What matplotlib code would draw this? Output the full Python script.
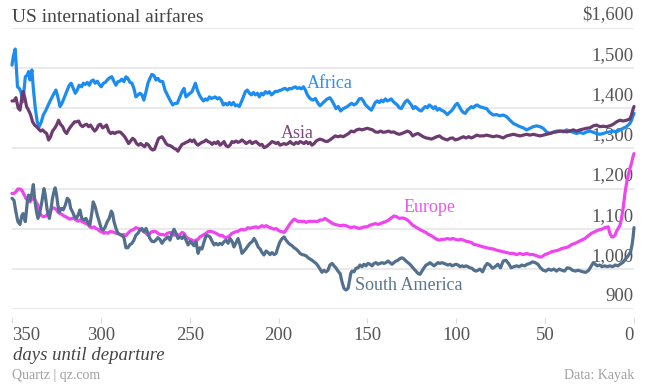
import matplotlib
matplotlib.use("Agg")
import matplotlib.pyplot as plt
import matplotlib.transforms as mtransforms

# (days until departure, average fare in $)
africa = [
    (350.0, 1507), (349.3, 1528), (348.2, 1547), (347.4, 1491), (346.9, 1453), (345.9, 1449),
    (345.0, 1441), (344.0, 1416), (343.3, 1441), (342.5, 1478), (341.4, 1482), (340.7, 1491),
    (339.9, 1470), (338.8, 1495), (338.0, 1449), (336.9, 1400), (335.8, 1366), (334.7, 1354),
    (333.5, 1366), (332.4, 1383), (330.9, 1395), (329.6, 1408), (328.3, 1420), (326.8, 1433),
    (325.3, 1445), (324.2, 1428), (323.0, 1404), (321.9, 1412), (320.8, 1424), (319.3, 1441),
    (317.8, 1457), (316.7, 1462), (315.5, 1449), (314.4, 1437), (313.3, 1445), (312.2, 1457),
    (310.8, 1453), (309.9, 1462), (308.8, 1459), (307.6, 1464), (306.5, 1457), (305.4, 1467),
    (304.3, 1470), (303.2, 1462), (302.0, 1467), (300.9, 1459), (299.8, 1453), (298.6, 1462),
    (297.5, 1464), (296.4, 1470), (294.9, 1476), (293.8, 1478), (292.6, 1466), (291.5, 1457),
    (290.4, 1466), (289.3, 1467), (288.2, 1472), (287.0, 1466), (285.9, 1478), (284.8, 1474),
    (283.6, 1464), (282.5, 1462), (281.4, 1449), (280.3, 1428), (279.1, 1433), (278.0, 1437),
    (276.9, 1433), (275.8, 1420), (274.6, 1441), (273.5, 1462), (272.4, 1474), (271.3, 1484),
    (270.1, 1481), (269.0, 1470), (267.9, 1474), (266.8, 1467),
    (265.2, 1466), (263.9, 1445), (262.6, 1433), (261.1, 1420), (259.6, 1408), (258.3, 1412),
    (257.0, 1412), (255.5, 1428), (254.3, 1441), (253.2, 1449), (252.1, 1428), (250.9, 1433),
    (249.8, 1437), (248.7, 1441), (247.6, 1453), (246.8, 1462), (245.7, 1445), (244.6, 1433),
    (243.4, 1424), (242.3, 1418), (241.2, 1423), (240.1, 1420), (238.9, 1428), (237.8, 1424),
    (236.7, 1426), (235.6, 1428), (234.4, 1423), (233.3, 1426), (232.2, 1420), (231.1, 1408),
    (229.9, 1412), (228.8, 1408), (227.7, 1414), (226.6, 1408), (225.4, 1414), (224.3, 1406),
    (223.2, 1408), (222.1, 1404), (220.9, 1416), (219.8, 1428), (218.7, 1441), (217.6, 1445),
    (216.4, 1437), (215.3, 1433), (214.2, 1439), (213.1, 1433), (211.9, 1437), (210.8, 1428),
    (209.7, 1437), (208.6, 1433), (207.4, 1441), (206.3, 1437), (205.2, 1441), (204.0, 1433),
    (202.9, 1437), (201.8, 1442), (200.7, 1441), (199.5, 1444), (198.4, 1445), (197.3, 1448),
    (196.2, 1449), (195.0, 1445), (193.9, 1449), (192.8, 1448), (191.7, 1451), (190.5, 1453),
    (189.4, 1449), (188.3, 1451), (187.2, 1448), (186.0, 1453), (184.9, 1445), (183.8, 1433),
    (182.3, 1424), (180.8, 1420), (179.3, 1424), (177.8, 1412), (176.7, 1406),
    (173.9, 1418), (172.6, 1423), (171.1, 1426), (169.9, 1418), (168.8, 1409), (167.7, 1399),
    (166.4, 1404), (165.1, 1393), (163.9, 1398), (162.6, 1401), (161.3, 1404), (160.2, 1408),
    (158.9, 1412), (157.6, 1408), (156.1, 1412), (154.6, 1423), (153.4, 1424), (152.3, 1418),
    (151.2, 1409), (150.1, 1404), (148.9, 1399), (147.8, 1395), (146.7, 1404), (145.6, 1414),
    (144.4, 1418), (143.3, 1414), (142.2, 1420), (141.1, 1416), (139.9, 1423), (138.8, 1418),
    (137.7, 1420), (136.6, 1423), (135.4, 1416), (134.3, 1412), (133.2, 1408), (132.1, 1401),
    (130.9, 1399), (129.8, 1408), (128.7, 1416), (127.5, 1420), (126.4, 1414), (125.3, 1408),
    (124.2, 1399), (123.1, 1404), (121.9, 1399), (120.8, 1395), (119.7, 1393), (118.6, 1399),
    (117.4, 1404), (116.3, 1401), (115.2, 1408), (114.0, 1404), (112.9, 1399), (111.8, 1404),
    (110.7, 1395), (109.5, 1399), (108.4, 1395), (107.3, 1393), (106.2, 1389), (105.0, 1384),
    (103.9, 1389), (102.8, 1393), (101.7, 1399), (100.5, 1408), (99.4, 1412), (98.3, 1404),
    (97.2, 1395), (96.0, 1389), (94.9, 1387), (93.8, 1395), (92.7, 1399), (91.5, 1404),
    (90.4, 1401), (89.3, 1406), (88.2, 1408), (87.0, 1404),
    (84.8, 1401), (83.0, 1399), (81.1, 1389), (79.2, 1383), (77.3, 1384), (75.5, 1381),
    (73.6, 1383), (71.7, 1379), (69.8, 1370), (67.9, 1362), (66.1, 1358), (64.2, 1354),
    (62.3, 1351), (60.4, 1346), (58.6, 1350), (56.7, 1354), (54.8, 1356), (52.9, 1354),
    (51.1, 1350), (49.2, 1341), (47.3, 1337), (45.4, 1340), (43.6, 1343), (41.7, 1343),
    (39.8, 1341), (37.9, 1346), (36.1, 1343), (34.2, 1340), (32.3, 1337), (30.4, 1340),
    (28.6, 1337), (26.7, 1341), (24.8, 1343), (22.9, 1340), (21.1, 1337), (19.2, 1335),
    (17.3, 1337), (15.4, 1340), (13.6, 1341), (11.7, 1343), (9.8, 1341), (7.9, 1346),
    (6.0, 1350), (4.2, 1354), (2.3, 1362), (1.4, 1370), (0.7, 1379), (0.0, 1387),
]

asia = [
    (350.0, 1418), (348.9, 1418), (347.8, 1426), (346.5, 1400), (345.5, 1395), (344.4, 1428),
    (343.7, 1441), (342.7, 1424), (341.8, 1404), (340.7, 1395), (339.5, 1383), (338.4, 1366),
    (337.3, 1358), (336.2, 1354), (335.0, 1348), (333.9, 1343), (332.8, 1346), (331.7, 1341),
    (330.5, 1337), (329.4, 1321), (328.3, 1329), (327.2, 1343), (326.0, 1350), (324.9, 1358),
    (323.8, 1370), (322.7, 1360), (321.5, 1354), (320.4, 1343), (319.3, 1337), (318.2, 1346),
    (317.0, 1354), (315.9, 1360), (314.8, 1366), (313.7, 1366), (312.5, 1368), (311.4, 1358),
    (310.3, 1354), (309.2, 1358), (308.0, 1360), (306.9, 1354), (305.8, 1358), (304.7, 1350),
    (303.5, 1343), (302.4, 1348), (301.3, 1358), (300.2, 1360), (299.0, 1351), (297.9, 1354),
    (296.8, 1358), (295.6, 1343), (294.5, 1337), (293.4, 1340), (292.3, 1337), (291.1, 1340),
    (290.0, 1341), (288.9, 1340), (287.8, 1335), (286.6, 1329), (285.5, 1321), (284.4, 1312),
    (283.3, 1318), (282.1, 1325), (281.0, 1321), (279.9, 1312), (278.8, 1308), (277.6, 1312),
    (276.5, 1308), (275.4, 1304), (274.3, 1312), (273.1, 1308), (272.0, 1300), (270.9, 1296),
    (269.8, 1298), (268.6, 1312), (267.5, 1325),
    (265.6, 1329), (264.4, 1321), (263.3, 1312), (262.2, 1308), (261.1, 1307), (259.9, 1304),
    (258.8, 1300), (257.7, 1298), (256.6, 1293), (255.5, 1302), (254.3, 1310), (253.2, 1312),
    (252.1, 1315), (250.9, 1317), (249.8, 1321), (248.7, 1317), (247.6, 1321), (246.4, 1312),
    (245.3, 1308), (244.2, 1312), (243.1, 1315), (241.9, 1317), (240.8, 1321), (239.7, 1317),
    (238.6, 1315), (237.4, 1310), (236.3, 1315), (235.2, 1312), (234.1, 1317), (232.9, 1308),
    (231.8, 1312), (230.7, 1317), (229.6, 1307), (228.4, 1304), (227.3, 1308), (226.2, 1317),
    (225.1, 1315), (223.9, 1318), (222.8, 1315), (221.7, 1317), (220.6, 1321), (219.4, 1317),
    (218.3, 1312), (217.2, 1315), (216.1, 1318), (214.9, 1312), (213.8, 1315), (212.7, 1317),
    (211.5, 1312), (210.4, 1308), (209.3, 1310), (208.2, 1302), (207.0, 1304), (205.9, 1308),
    (204.8, 1312), (203.7, 1317), (202.5, 1315), (201.4, 1312), (200.3, 1315), (199.2, 1308),
    (198.0, 1310), (196.9, 1312), (195.8, 1310), (194.7, 1312), (193.5, 1317), (192.4, 1312),
    (191.3, 1310), (190.2, 1315), (189.0, 1312), (187.9, 1317), (186.8, 1315), (185.7, 1312),
    (184.5, 1317), (183.4, 1312), (182.3, 1315), (181.2, 1308), (180.0, 1312), (178.9, 1318),
    (177.8, 1321), (176.7, 1323),
    (175.2, 1321), (173.9, 1318), (172.6, 1317), (171.1, 1321), (169.6, 1326), (168.1, 1331),
    (166.6, 1329), (165.1, 1331), (163.6, 1329), (162.1, 1333), (160.6, 1337), (159.1, 1343),
    (157.6, 1341), (156.1, 1346), (154.6, 1348), (153.1, 1346), (151.6, 1348), (150.1, 1350),
    (148.6, 1348), (147.1, 1346), (145.6, 1341), (144.1, 1340), (142.6, 1343), (141.1, 1340),
    (139.6, 1341), (138.1, 1343), (136.6, 1340), (135.1, 1341), (133.6, 1337), (132.1, 1335),
    (130.6, 1337), (129.1, 1340), (127.5, 1343), (126.0, 1340), (124.5, 1331), (123.0, 1335),
    (121.5, 1337), (120.0, 1333), (118.6, 1329), (117.1, 1326), (115.6, 1325), (114.0, 1323),
    (112.5, 1326), (111.0, 1329), (109.5, 1331), (108.0, 1326), (106.5, 1323), (105.0, 1321),
    (103.5, 1325), (102.0, 1326), (100.5, 1321), (99.0, 1323), (97.5, 1326), (96.0, 1329),
    (94.5, 1326), (93.0, 1329), (91.5, 1326), (90.0, 1329), (88.5, 1333), (87.0, 1331),
    (84.8, 1331), (83.0, 1333), (81.1, 1331), (79.2, 1329), (77.3, 1331), (75.5, 1329),
    (73.6, 1326), (71.7, 1331), (69.8, 1333), (67.9, 1335), (66.1, 1333), (64.2, 1331),
    (62.3, 1333), (60.4, 1335), (58.6, 1333), (56.7, 1335), (54.8, 1333), (52.9, 1331),
    (51.1, 1333), (49.2, 1335), (47.3, 1337), (45.4, 1340), (43.6, 1341), (41.7, 1343),
    (39.8, 1343), (37.9, 1341), (36.1, 1343), (34.2, 1346), (32.3, 1343), (30.4, 1346),
    (28.6, 1348), (26.7, 1350), (24.8, 1351), (22.9, 1356), (21.1, 1358), (19.2, 1354),
    (17.3, 1355), (15.4, 1354), (13.6, 1356), (11.7, 1360), (9.8, 1366), (7.9, 1370),
    (6.0, 1368), (4.2, 1370), (2.3, 1373), (1.4, 1383), (0.7, 1395), (0.0, 1404),
]

europe = [
    (350.0, 1188), (348.9, 1188), (347.8, 1192), (346.7, 1199), (345.5, 1199), (344.4, 1196),
    (343.3, 1186), (342.2, 1176), (341.0, 1169), (339.9, 1167), (338.8, 1174), (337.7, 1176),
    (336.5, 1167), (335.4, 1159), (334.3, 1138), (333.2, 1132), (332.0, 1130), (330.9, 1132),
    (329.8, 1138), (328.7, 1142), (327.5, 1151), (326.4, 1152), (325.3, 1149), (324.2, 1142),
    (323.0, 1138), (321.9, 1136), (320.8, 1132), (319.7, 1130), (318.5, 1127), (317.4, 1124),
    (316.3, 1126), (315.2, 1126), (314.0, 1122), (312.9, 1119), (311.8, 1122), (310.7, 1118),
    (309.5, 1116), (308.4, 1113), (307.3, 1111), (306.2, 1105), (305.0, 1103), (303.9, 1105),
    (302.8, 1101), (301.7, 1099), (300.5, 1094), (299.4, 1093), (298.3, 1089), (297.2, 1091),
    (296.0, 1089), (294.9, 1093), (293.8, 1093), (292.6, 1091), (291.5, 1089), (290.4, 1089),
    (289.3, 1086), (288.2, 1084), (287.0, 1086), (285.9, 1083), (284.8, 1089), (283.6, 1094),
    (282.5, 1097), (281.4, 1099), (280.3, 1103), (279.1, 1101), (278.0, 1099), (276.9, 1097),
    (275.8, 1093), (274.6, 1089), (273.5, 1084), (272.4, 1089), (271.3, 1093), (270.1, 1094),
    (269.0, 1093), (267.9, 1089), (266.8, 1086),
    (265.2, 1086), (263.9, 1084), (262.6, 1089), (261.1, 1091), (259.9, 1089), (258.8, 1084),
    (257.7, 1086), (256.6, 1084), (255.5, 1086), (254.3, 1091), (253.2, 1089), (252.1, 1080),
    (250.9, 1076), (249.8, 1074), (248.7, 1072), (247.6, 1069), (246.4, 1072), (245.3, 1074),
    (244.2, 1080), (243.1, 1083), (241.9, 1086), (240.8, 1089), (239.7, 1093), (238.6, 1094),
    (237.4, 1093), (236.3, 1091), (235.2, 1089), (234.1, 1086), (232.9, 1083), (231.8, 1084),
    (230.7, 1080), (229.6, 1078), (228.4, 1080), (227.3, 1084), (226.2, 1089), (225.1, 1091),
    (223.9, 1093), (222.8, 1094), (221.7, 1097), (220.6, 1099), (219.4, 1097), (218.3, 1099),
    (217.2, 1103), (216.1, 1101), (214.9, 1103), (213.8, 1104), (212.7, 1105), (211.5, 1103),
    (210.4, 1105), (209.3, 1108), (208.2, 1105), (207.0, 1108), (205.9, 1105), (204.8, 1103),
    (203.7, 1101), (202.5, 1099), (201.4, 1101), (200.3, 1097), (199.2, 1094), (198.0, 1093),
    (196.9, 1091), (195.8, 1097), (194.7, 1105), (193.5, 1113), (192.4, 1119), (191.3, 1124),
    (190.2, 1122), (189.0, 1118), (187.9, 1119), (186.8, 1118), (185.7, 1119), (184.5, 1116),
    (183.4, 1118), (182.3, 1119), (181.2, 1118), (180.0, 1119), (178.9, 1118), (177.8, 1119),
    (176.7, 1122),
    (175.2, 1122), (173.9, 1126), (172.6, 1122), (171.1, 1118), (169.6, 1113), (168.1, 1111),
    (166.6, 1109), (165.1, 1108), (163.6, 1109), (162.1, 1108), (160.6, 1105), (159.1, 1103),
    (157.6, 1105), (156.1, 1103), (154.6, 1101), (153.1, 1103), (151.6, 1105), (150.1, 1105),
    (148.6, 1109), (147.1, 1111), (145.6, 1113), (144.1, 1111), (142.6, 1113), (141.1, 1116),
    (139.6, 1118), (138.1, 1122), (136.6, 1127), (135.1, 1132), (133.6, 1130), (132.1, 1126),
    (130.6, 1127), (129.1, 1126), (127.5, 1122), (126.0, 1116), (124.5, 1109), (123.0, 1105),
    (121.5, 1101), (120.0, 1097), (118.6, 1094), (117.1, 1091), (115.6, 1086), (114.0, 1083),
    (112.5, 1078), (111.0, 1074), (109.5, 1072), (108.0, 1074), (106.5, 1074), (105.0, 1076),
    (103.5, 1074), (102.0, 1076), (100.5, 1074), (99.0, 1072), (97.5, 1074), (96.0, 1072),
    (94.5, 1069), (93.0, 1068), (91.5, 1066), (90.0, 1061), (88.5, 1060), (87.0, 1058),
    (84.8, 1055), (83.0, 1053), (81.1, 1051), (79.2, 1050), (77.3, 1047), (75.5, 1045),
    (73.6, 1043), (71.7, 1041), (69.8, 1039), (67.9, 1039), (66.1, 1036), (64.2, 1039),
    (62.3, 1036), (60.4, 1039), (58.6, 1036), (56.7, 1036), (54.8, 1033), (52.9, 1030),
    (52.0, 1030), (50.1, 1036), (48.2, 1039), (46.4, 1043), (44.5, 1045), (42.6, 1047),
    (40.7, 1051), (38.9, 1053), (37.0, 1055), (35.1, 1061), (33.2, 1064), (31.4, 1068),
    (29.5, 1072), (27.6, 1076), (25.7, 1083), (23.9, 1089), (22.0, 1093), (20.1, 1097),
    (18.2, 1099), (16.4, 1103), (14.5, 1105), (13.6, 1089), (12.6, 1080), (11.7, 1080),
    (10.7, 1084), (9.8, 1094), (8.9, 1101), (7.9, 1109), (7.0, 1126), (6.0, 1155),
    (5.1, 1188), (4.2, 1213), (3.2, 1234), (2.3, 1250), (1.4, 1263), (0.7, 1277), (0.0, 1287),
]

south_america = [
    (350.0, 1176), (348.9, 1171), (347.8, 1142), (346.7, 1118), (345.5, 1111), (344.4, 1134),
    (343.7, 1138), (342.5, 1118), (341.4, 1167), (340.7, 1184), (339.9, 1171), (338.8, 1188),
    (338.0, 1210), (337.3, 1176), (336.2, 1142), (335.4, 1126), (334.3, 1142), (333.2, 1167),
    (332.0, 1200), (331.3, 1184), (330.2, 1147), (329.0, 1126), (328.3, 1142), (327.2, 1176),
    (326.4, 1192), (325.7, 1202), (324.9, 1184), (324.2, 1159), (323.4, 1142), (322.3, 1151),
    (321.2, 1147), (320.0, 1159), (318.9, 1176), (317.8, 1171), (317.0, 1151), (315.9, 1142),
    (314.8, 1130), (313.7, 1126), (312.5, 1138), (311.8, 1147), (310.7, 1126), (309.5, 1122),
    (308.4, 1126), (307.3, 1116), (306.2, 1109), (305.0, 1142), (304.3, 1167), (303.2, 1155),
    (302.0, 1134), (300.9, 1118), (299.8, 1101), (298.6, 1097), (297.5, 1105), (296.4, 1118),
    (295.3, 1126), (294.1, 1144), (293.4, 1138), (292.6, 1118), (291.5, 1101), (290.4, 1089),
    (289.3, 1086), (288.2, 1084), (287.0, 1078), (285.9, 1053), (284.8, 1053), (283.6, 1061),
    (282.5, 1064), (281.4, 1072), (280.3, 1084), (279.1, 1089), (278.0, 1097), (276.9, 1101),
    (275.8, 1093), (274.6, 1101), (273.5, 1089), (272.4, 1076), (271.3, 1069), (270.1, 1068),
    (269.0, 1072), (267.9, 1078), (266.8, 1074),
    (265.6, 1064), (264.4, 1072), (263.3, 1076), (262.2, 1080), (261.1, 1072), (259.9, 1089),
    (258.8, 1099), (257.7, 1089), (256.6, 1076), (255.5, 1080), (254.3, 1076), (253.2, 1083),
    (252.1, 1072), (250.9, 1060), (249.8, 1069), (248.7, 1064), (247.6, 1058), (246.4, 1068),
    (245.3, 1039), (244.2, 1053), (243.1, 1050), (241.9, 1068), (240.8, 1083), (239.7, 1083),
    (238.6, 1080), (237.4, 1069), (236.3, 1060), (235.2, 1064), (234.1, 1060), (232.9, 1064),
    (231.8, 1061), (230.7, 1068), (229.6, 1072), (228.4, 1064), (227.3, 1076), (226.2, 1069),
    (225.1, 1055), (223.9, 1066), (222.8, 1076), (221.7, 1060), (220.6, 1039), (219.4, 1045),
    (218.3, 1051), (217.2, 1058), (216.1, 1064), (214.9, 1068), (213.8, 1076), (212.7, 1068),
    (211.5, 1055), (210.4, 1050), (209.3, 1041), (208.2, 1035), (207.0, 1045), (205.9, 1041),
    (204.8, 1036), (203.7, 1041), (202.5, 1036), (201.4, 1039), (200.3, 1055), (199.2, 1068),
    (198.0, 1076), (196.9, 1080), (195.8, 1072), (194.7, 1066), (193.5, 1061), (192.4, 1058),
    (191.3, 1053), (190.2, 1050), (189.0, 1045), (187.9, 1039), (186.8, 1036), (185.7, 1035),
    (184.5, 1033), (183.4, 1028), (182.3, 1025), (181.2, 1022), (180.0, 1018), (178.9, 1014),
    (177.8, 1008),
    (175.6, 992), (174.5, 997), (173.3, 993), (172.2, 997), (171.1, 1010), (169.9, 1014),
    (168.8, 1008), (167.7, 1003), (166.6, 995), (165.4, 989), (164.3, 968), (163.2, 952),
    (162.1, 948), (160.9, 952), (160.2, 968), (159.4, 989), (158.7, 995), (157.6, 993),
    (156.4, 1002), (155.3, 1003), (154.2, 1010), (153.1, 1006), (151.9, 1012), (150.8, 1008),
    (149.7, 1014), (148.6, 1012), (147.4, 1008), (146.3, 1014), (145.2, 1016), (144.1, 1012),
    (142.9, 1014), (141.8, 1016), (140.7, 1014), (139.6, 1016), (138.4, 1020), (137.3, 1016),
    (136.2, 1012), (135.1, 1016), (133.9, 1020), (132.8, 1022), (131.7, 1026), (130.6, 1028),
    (129.4, 1025), (128.3, 1020), (127.2, 1016), (126.1, 1012), (124.9, 1006), (123.8, 1000),
    (122.7, 995), (121.5, 989), (120.4, 987), (119.3, 995), (118.2, 1003), (117.0, 1010),
    (115.9, 1012), (114.8, 1016), (113.7, 1012), (112.5, 1008), (111.4, 1012), (110.3, 1016),
    (109.2, 1014), (108.0, 1016), (106.9, 1014), (105.8, 1012), (104.7, 1010), (103.5, 1012),
    (102.4, 1008), (101.3, 1010), (100.2, 1012), (99.0, 1010), (97.9, 1006), (96.8, 1008),
    (95.7, 1006), (94.5, 1008), (93.4, 1006), (92.3, 1003), (91.2, 1002), (90.0, 997),
    (88.9, 995), (87.8, 997), (86.7, 1000),
    (85.2, 993), (83.9, 1006), (82.6, 1014), (81.1, 1010), (79.6, 1002), (78.1, 1006),
    (76.6, 1012), (75.1, 1003), (73.6, 1020), (72.1, 1022), (70.6, 1014), (69.1, 1003),
    (67.6, 1006), (66.1, 1008), (64.6, 1006), (63.1, 1010), (61.6, 1008), (60.1, 1012),
    (58.6, 1014), (57.1, 1018), (55.6, 1016), (54.1, 1012), (52.6, 1003), (51.1, 997),
    (49.6, 995), (48.1, 1000), (46.6, 997), (45.1, 1000), (43.6, 995), (42.1, 1000),
    (40.6, 997), (39.1, 995), (37.6, 1003), (36.1, 1002), (34.6, 997), (33.0, 995),
    (31.5, 997), (30.0, 995), (28.6, 993), (27.1, 992), (25.5, 997), (24.0, 1008),
    (22.9, 1016), (21.8, 1012), (20.7, 1008), (19.5, 1010), (18.0, 1006), (16.5, 1008),
    (15.0, 1006), (13.6, 1008), (12.0, 1006), (10.5, 1010), (9.0, 1008), (7.9, 1012),
    (6.4, 1016), (5.3, 1022), (4.2, 1028), (3.0, 1035), (1.9, 1043), (1.1, 1060),
    (0.5, 1080), (0.0, 1103),
]

series_names = ["Africa", "Asia", "Europe", "South America"]
series_data = [africa, asia, europe, south_america]
series_colors = ["#1d8cf0", "#6c3b70", "#ee45ee", "#52708e"]
label_colors = ["#2a8ff0", "#7a4a7e", "#ee55ee", "#5a7590"]
# label anchor (day, price) for each direct label
label_pos = [(171, 1462), (189.5, 1338), (115, 1152), (126.5, 958)]

x_ticks = [350, 300, 250, 200, 150, 100, 50, 0]
y_ticks = [900, 1000, 1100, 1200, 1300, 1400, 1500, 1600]
y_labels = ["900", "1,000", "1,100", "1,200", "1,300", "1,400", "1,500", "$1,600"]

serif = "Liberation Serif"
plt.rcParams["font.family"] = serif

W, H = 645, 386
fig = plt.figure(figsize=(W / 100, H / 100), dpi=100)
ax = fig.add_axes([12 / W, 1 - 309.3 / H, (634 - 12) / W, (309.3 - 27.7) / H])
ax.set_xlim(350, 0)
ax.set_ylim(900, 1600)

for side in ["left", "right", "top"]:
    ax.spines[side].set_visible(False)
ax.spines["bottom"].set_position(("outward", 6.5))
ax.spines["bottom"].set_visible(False)

# horizontal grid
for v in y_ticks:
    ax.axhline(v, color="#e8e8e8", lw=1.3, zorder=0)

ax.set_yticks([])
ax.set_xticks(x_ticks)
ax.set_xticklabels([str(t) for t in x_ticks])
ax.tick_params(axis="x", length=3.6, width=0.8, color="#dadada",
               labelsize=13.5, labelcolor="#555555", pad=3)
xt = ax.get_xticklabels()
xt[0].set_horizontalalignment("left")
xt[-1].set_horizontalalignment("right")

# y labels sit on top of their gridlines at the right edge
trans = mtransforms.blended_transform_factory(ax.transAxes, ax.transData)
for v, lab in zip(y_ticks, y_labels):
    ax.annotate(lab, xy=(1.0, v), xycoords=trans, xytext=(0, 3),
                textcoords="offset points", ha="right", va="bottom",
                fontsize=13.5, color="#555555", zorder=2)

for name, data, col, lcol, pos in zip(series_names, series_data, series_colors,
                                      label_colors, label_pos):
    days = [d for d, _ in data]
    price = [p for _, p in data]
    ax.plot(days, price, color=col, lw=2.3, solid_joinstyle="round",
            solid_capstyle="round", clip_on=False, zorder=3)
    ax.text(pos[0], pos[1], name, color=lcol, fontsize=13, ha="center",
            va="center", zorder=4)

fig.text(12 / W, 1 - 17 / H, "US international airfares", fontsize=14,
         color="#444444", ha="left", va="center")
fig.text(13 / W, 1 - 355 / H, "days until departure", fontsize=13.5,
         style="italic", color="#444444", ha="left", va="center")
fig.text(12 / W, 1 - 376 / H, "Quartz | qz.com", fontsize=10,
         color="#a0a0a0", ha="left", va="center")
fig.text(634 / W, 1 - 376 / H, "Data: Kayak", fontsize=10,
         color="#a0a0a0", ha="right", va="center")

fig.savefig("out.png", dpi=100)
